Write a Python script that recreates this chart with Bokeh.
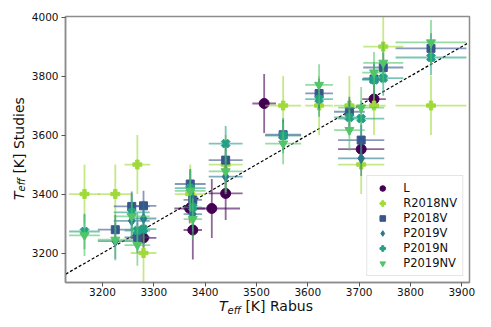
import numpy as np
from bokeh.plotting import figure
from bokeh.models import Range1d, FixedTicker, Legend, LegendItem, Div
from bokeh.layouts import column, row
from bokeh.embed import file_html
from bokeh.resources import INLINE

# ---------------- data ----------------
L_x = [3280, 3370, 3376, 3413, 3440, 3515, 3704, 3729]
L_y = [3251, 3351, 3278, 3351, 3402, 3707, 3552, 3722]
L_xerr = [25, 30, 18, 55, 33, 23, 45, 23]
L_yerr = [50, 50, 100, 100, 90, 100, 30, 30]

R18NV_x = [3165, 3225, 3268, 3280, 3371, 3440, 3552, 3622, 3681, 3704, 3729, 3747, 3840]
R18NV_y = [3400, 3400, 3500, 3200, 3400, 3500, 3700, 3700, 3700, 3500, 3700, 3900, 3700]
R18NV_xerr = [30, 34, 25, 25, 30, 33, 35, 27, 30, 45, 23, 39, 69]
R18NV_yerr = [100, 100, 100, 100, 100, 100, 100, 100, 100, 100, 100, 100, 100]

P18V_x = [3225, 3257, 3268, 3280, 3371, 3376, 3440, 3552, 3622, 3681, 3704, 3729, 3747, 3840]
P18V_y = [3279, 3358, 3253, 3360, 3434, 3380, 3515, 3601, 3741, 3679, 3583, 3790, 3829, 3894]
P18V_xerr = [34, 35, 25, 25, 30, 18, 33, 35, 27, 30, 45, 23, 39, 69]
P18V_yerr = [51, 51, 51, 51, 51, 51, 51, 51, 51, 51, 51, 51, 51, 51]

P19V_x = [3225, 3257, 3280, 3376, 3440, 3704]
P19V_y = [3240, 3309, 3317, 3332, 3459, 3521]
P19V_xerr = [34, 35, 25, 18, 33, 45]
P19V_yerr = [60, 60, 60, 60, 60, 60]

P19N_x = [3165, 3257, 3268, 3280, 3371, 3376, 3440, 3552, 3622, 3681, 3704, 3729, 3747, 3840]
P19N_y = [3273, 3338, 3276, 3281, 3420, 3355, 3571, 3598, 3722, 3660, 3656, 3787, 3793, 3863]
P19N_xerr = [30, 35, 25, 25, 30, 18, 33, 35, 27, 30, 45, 23, 39, 69]
P19N_yerr = [60, 60, 60, 60, 60, 60, 60, 60, 60, 60, 60, 60, 60, 60]

P19NV_x = [3165, 3225, 3257, 3268, 3371, 3376, 3440, 3552, 3622, 3681, 3704, 3729, 3747, 3840]
P19NV_y = [3260, 3245, 3324, 3227, 3411, 3315, 3477, 3571, 3770, 3617, 3693, 3812, 3845, 3914]
P19NV_xerr = [30, 34, 35, 25, 30, 18, 33, 35, 27, 30, 45, 23, 39, 69]
P19NV_yerr = [70, 70, 70, 70, 70, 70, 70, 70, 70, 70, 70, 70, 70, 76]

one_to_one = [3120, 3910]
x_ticks = [3200, 3300, 3400, 3500, 3600, 3700, 3800, 3900]
y_ticks = [3200, 3400, 3600, 3800, 4000]

series = [
    ("L", L_x, L_y, L_xerr, L_yerr, "#440154", "circle", 10, 0.0),
    ("R2018NV", R18NV_x, R18NV_y, R18NV_xerr, R18NV_yerr, "#a0da39", "plus", 9, 0.0),
    ("P2018V", P18V_x, P18V_y, P18V_xerr, P18V_yerr, "#39568c", "square", 8, 0.0),
    ("P2019V", P19V_x, P19V_y, P19V_xerr, P19V_yerr, "#2a788e", "diamond", 10, 0.0),
    ("P2019N", P19N_x, P19N_y, P19N_xerr, P19N_yerr, "#22a085", "plus", 9, np.pi / 4),
    ("P2019NV", P19NV_x, P19NV_y, P19NV_xerr, P19NV_yerr, "#52c569", "inverted_triangle", 9, 0.0),
]

# ---------------- figure ----------------
p = figure(width=461, height=312, output_backend="svg", toolbar_location=None,
           x_range=Range1d(3128, 3915), y_range=Range1d(3100, 4002),
           min_border_left=35, min_border_right=20, min_border_top=16, min_border_bottom=30)
p.xgrid.visible = False
p.ygrid.visible = False
p.outline_line_color = "#8c8c8c"
p.outline_line_width = 1.5
p.background_fill_color = "white"
p.border_fill_color = "white"

for ax, ticks in ((p.xaxis, x_ticks), (p.yaxis, y_ticks)):
    ax.ticker = FixedTicker(ticks=ticks)
    ax.axis_line_color = "#8c8c8c"
    ax.axis_line_width = 1.5
    ax.major_tick_line_color = "#555555"
    ax.major_tick_out = 4
    ax.major_tick_in = 0
    ax.minor_tick_line_color = None
    ax.major_label_text_font = "DejaVu Sans"
    ax.major_label_text_font_size = "10.5px"
    ax.major_label_text_color = "#111111"
p.xaxis.major_label_standoff = 1
p.yaxis.major_label_standoff = 3

p.line(one_to_one, one_to_one, line_color="black", line_dash="3 2", line_width=1.2)

items = []
for name, xs, ys, xe, ye, col, mk, sz, ang in series:
    x = np.array(xs, float); y = np.array(ys, float)
    xe = np.array(xe, float); ye = np.array(ye, float)
    p.segment(x0=x - xe, y0=y, x1=x + xe, y1=y, line_color=col, line_alpha=0.6, line_width=1.8)
    p.segment(x0=x, y0=y - ye, x1=x, y1=y + ye, line_color=col, line_alpha=0.6, line_width=1.8)
    r = p.scatter(x, y, marker=mk, size=sz, angle=ang, fill_color=col, line_color=col)
    items.append(LegendItem(label=name, renderers=[r]))

legend = Legend(items=items, location="bottom_right")
legend.label_text_font = "DejaVu Sans"
legend.label_text_font_size = "11.5px"
legend.label_text_color = "#111111"
legend.glyph_width = 20
legend.glyph_height = 14
legend.label_height = 14
legend.spacing = 1
legend.padding = 5
legend.margin = 6
legend.label_standoff = 11
legend.border_line_color = "#cccccc"
legend.border_line_width = 1
legend.background_fill_alpha = 0.85
p.add_layout(legend, "center")

# ---------------- axis labels as HTML text ----------------
sub = '<span style="font-size:10px; font-style:italic; vertical-align:-3px;">eff</span>'
xlab = Div(width=489, height=14, margin=0, text=(
    '<div style="position:relative; top:-14px; width:400px; margin-left:66px; text-align:center; '
    'font-family:\'DejaVu Sans\'; font-size:14px; line-height:17px; color:#111; white-space:nowrap;">'
    '<i>T</i>' + sub + ' [K] Rabus</div>'))
ylab = Div(width=28, height=312, margin=0, text=(
    '<div style="writing-mode:vertical-rl; transform:rotate(180deg); height:266px; margin-top:16px; '
    'margin-left:10px; width:18px; text-align:center; font-family:\'DejaVu Sans\'; font-size:14px; '
    'line-height:18px; color:#111; white-space:nowrap;">'
    '<i>T</i>' + sub + ' [K] Studies</div>'))

layout = column(row(ylab, p, spacing=0), xlab, spacing=0)
open("out.html", "w").write(file_html(layout, INLINE))
